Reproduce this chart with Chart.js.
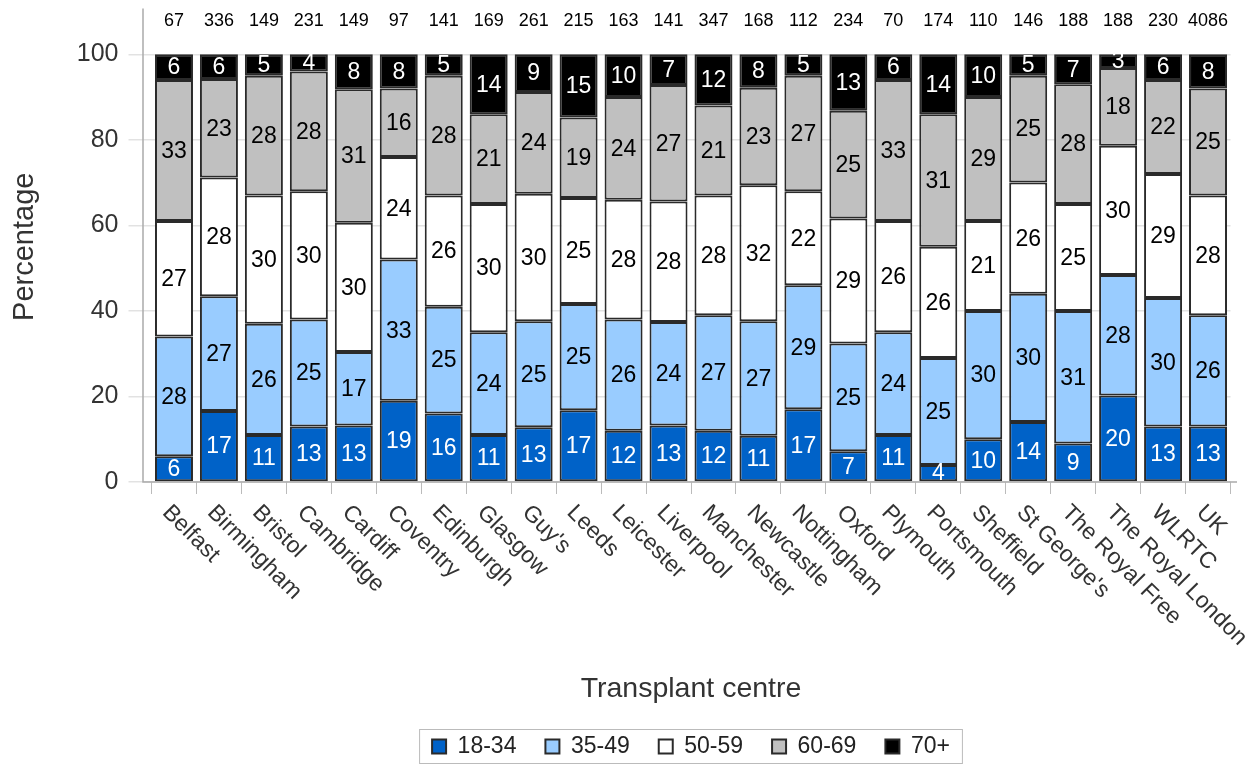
<!DOCTYPE html>
<html>
<head>
<meta charset="utf-8">
<script src="https://cdn.jsdelivr.net/npm/chart.js@4"></script>
<style>
  html, body { margin: 0; padding: 0; background: #fff; }
</style>
</head>
<body>
<canvas id="chart" width="1253" height="765"></canvas>
<script>
// transplant centres, left to right
const centres = ["Belfast", "Birmingham", "Bristol", "Cambridge", "Cardiff", "Coventry",
  "Edinburgh", "Glasgow", "Guy's", "Leeds", "Leicester", "Liverpool", "Manchester",
  "Newcastle", "Nottingham", "Oxford", "Plymouth", "Portsmouth", "Sheffield",
  "St George's", "The Royal Free", "The Royal London", "WLRTC", "UK"];

// number of patients shown above each bar
const counts = [67, 336, 149, 231, 149, 97, 141, 169, 261, 215, 163, 141, 347, 168,
  112, 234, 70, 174, 110, 146, 188, 188, 230, 4086];

// percentages per age group
const age18to34 = [6, 16.6, 11, 13, 13.2, 19, 16, 11, 12.8, 16.8, 12, 13.2, 12, 10.8,
  17, 7.2, 11, 4, 10, 14, 9, 20.2, 13, 13];
const age35to49 = [28, 26.8, 26, 25, 17.2, 33, 25, 24, 24.8, 24.8, 26, 24.2, 27, 26.8,
  29, 25.2, 24, 25, 30, 30, 31, 28.2, 30, 26];
const age50to59 = [27, 27.8, 30, 30, 30.2, 24, 26, 30, 29.8, 24.8, 28, 28.2, 28, 31.8,
  22, 29.2, 26, 26, 21, 26, 25, 30.2, 29, 28];
const age60to69 = [33, 23, 28, 28, 31.2, 16, 28, 21, 23.8, 18.8, 24, 27.2, 21, 22.8,
  27, 25.2, 33, 31, 29, 25, 28, 18.2, 22, 25];
const age70plus = [6, 5.8, 5, 4, 8.2, 8, 5, 14, 8.8, 14.8, 10, 7.2, 12, 7.8,
  5, 13.2, 6, 14, 10, 5, 7, 3.2, 6, 8];

const yTicks = [0, 20, 40, 60, 80, 100];

const fontFamily = '"Liberation Sans", Arial, sans-serif';
const labelColours = ['#fff', '#000', '#000', '#000', '#fff'];

function makeSet(label, data, colour) {
  return {
    label: label,
    data: data,
    backgroundColor: colour,
    borderColor: '#2a2a2a',
    borderWidth: 2,
    borderSkipped: false,
    barPercentage: 0.845,
    categoryPercentage: 1
  };
}

// segment values, counts, rotated centre names, axis lines and legend frame
const overlay = {
  id: 'overlay',
  afterDatasetsDraw(chart) {
    const ctx = chart.ctx;
    ctx.save();
    ctx.font = '23px ' + fontFamily;
    ctx.textAlign = 'center';
    ctx.textBaseline = 'middle';
    chart.data.datasets.forEach((ds, i) => {
      ctx.fillStyle = labelColours[i];
      chart.getDatasetMeta(i).data.forEach((bar, j) => {
        ctx.fillText(Math.round(ds.data[j]), bar.x, (bar.y + bar.base) / 2 + 1);
      });
    });
    ctx.restore();
  },
  afterDraw(chart) {
    const ctx = chart.ctx;
    const xs = chart.scales.x, ys = chart.scales.y;
    const area = chart.chartArea;
    ctx.save();

    // axis lines
    ctx.strokeStyle = '#aaa';
    ctx.lineWidth = 1.5;
    ctx.beginPath();
    ctx.moveTo(143, area.top - 3);
    ctx.lineTo(143, area.bottom);
    ctx.lineTo(1237, area.bottom);
    ctx.stroke();

    // counts above bars
    ctx.fillStyle = '#000';
    ctx.font = '18px ' + fontFamily;
    ctx.textAlign = 'center';
    ctx.textBaseline = 'middle';
    counts.forEach((n, i) => {
      ctx.fillText(n, xs.getPixelForValue(i), ys.getPixelForValue(107.8));
    });

    // centre names, rotated downwards
    ctx.fillStyle = '#333';
    ctx.font = '23px ' + fontFamily;
    ctx.textAlign = 'left';
    centres.forEach((name, i) => {
      ctx.save();
      ctx.translate(xs.getPixelForValue(i) - 8, area.bottom + 27);
      ctx.rotate(Math.PI / 4);
      ctx.fillText(name, 0, 0);
      ctx.restore();
    });

    // frame round the legend
    const boxes = chart.legend.legendHitBoxes;
    if (boxes && boxes.length) {
      const first = boxes[0], last = boxes[boxes.length - 1];
      ctx.strokeStyle = '#bbb';
      ctx.lineWidth = 1;
      ctx.strokeRect(first.left - 12.5, first.top - 5.5,
        last.left + last.width - first.left + 25, first.height + 11);
    }
    ctx.restore();
  }
};

new Chart(document.getElementById('chart'), {
  type: 'bar',
  data: {
    labels: centres,
    datasets: [
      makeSet('18-34', age18to34, '#0062C8'),
      makeSet('35-49', age35to49, '#99CCFF'),
      makeSet('50-59', age50to59, '#FFFFFF'),
      makeSet('60-69', age60to69, '#C0C0C0'),
      makeSet('70+', age70plus, '#000000')
    ]
  },
  options: {
    responsive: false,
    animation: false,
    devicePixelRatio: 1,
    layout: { padding: { top: 11.5, right: 22.5, bottom: -3, left: 0 } },
    plugins: {
      tooltip: { enabled: false },
      legend: {
        position: 'bottom',
        fullSize: false,
        labels: {
          boxWidth: 14,
          boxHeight: 14,
          padding: 29,
          color: '#222',
          font: { size: 23, family: fontFamily }
        }
      }
    },
    scales: {
      x: {
        stacked: true,
        grid: { drawOnChartArea: false, tickLength: 12, color: '#bbb' },
        border: { display: false },
        ticks: { display: false },
        title: {
          display: true,
          text: 'Transplant centre',
          color: '#333',
          font: { size: 28.5, family: fontFamily },
          padding: { top: 0, bottom: 0 }
        },
        afterFit(scale) { scale.height = 224; }
      },
      y: {
        stacked: true,
        min: 0,
        max: 110,
        afterBuildTicks(scale) {
          scale.ticks = yTicks.map(v => ({ value: v }));
        },
        ticks: { padding: 10, color: '#333', font: { size: 25, family: fontFamily } },
        grid: { color: '#e2e2e2', tickLength: 23, lineWidth: 1.5 },
        border: { display: false },
        title: {
          display: true,
          text: 'Percentage',
          color: '#333',
          font: { size: 29, family: fontFamily },
          padding: { top: 8, bottom: 0 }
        },
        afterFit(scale) {
          scale.width = 151.5;
          scale.paddingTop = 0;
          scale.paddingBottom = 0;
        }
      }
    }
  },
  plugins: [overlay]
});
</script>
</body>
</html>
